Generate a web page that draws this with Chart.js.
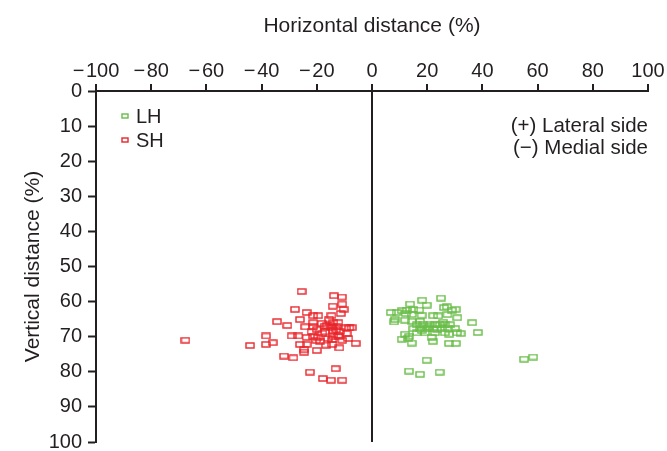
<!DOCTYPE html>
<html>
<head>
<meta charset="utf-8">
<script src="https://cdn.jsdelivr.net/npm/chart.js@4.4.1/dist/chart.umd.min.js"></script>
<style>
  html, body { margin: 0; padding: 0; background: #fff; }
</style>
</head>
<body>
<canvas id="distChart" width="667" height="451"></canvas>
<script>
// LH group (lateral) - horizontal / vertical distance (%)
const lhX = [25.0, 18.2, 19.8, 13.8, 26.1, 27.1, 28.9, 30.3, 10.8, 12.6, 15.0, 17.1, 6.8, 8.9,
  12.2, 14.4, 18.0, 22.2, 24.0, 27.3, 30.9, 8.3, 8.0, 12.0, 14.4, 17.4, 36.3,
  16.2, 18.6, 21.0, 22.8, 24.6, 26.4, 28.3, 15.0, 17.4, 19.8, 22.2, 25.3, 27.6, 30.1,
  16.2, 19.2, 22.8, 26.4, 30.7, 32.1, 38.3, 12.0, 13.5, 28.0, 10.8, 13.2, 21.6, 22.0,
  14.4, 27.9, 30.3, 19.8, 55.1, 58.4, 13.4, 17.4, 24.5, 20.5, 23.5, 18.0, 25.8];
const lhY = [59.0, 59.6, 61.0, 60.7, 61.7, 61.5, 62.4, 62.2, 62.6, 62.4, 62.2, 62.4, 63.1, 63.1,
  63.4, 63.7, 63.9, 64.0, 64.1, 63.7, 64.6, 65.1, 65.8, 65.3, 65.6, 65.6, 66.0,
  66.6, 66.6, 66.6, 66.6, 66.6, 66.6, 66.6, 67.7, 67.7, 67.7, 67.7, 67.7, 67.7, 67.7,
  68.9, 68.9, 68.9, 68.9, 68.9, 69.1, 68.8, 69.3, 69.9, 69.3, 70.7, 70.5, 70.2, 71.3,
  71.8, 71.9, 71.9, 76.7, 76.4, 75.8, 79.8, 80.7, 80.1, 67.2, 67.9, 68.2, 65.9];

// SH group (medial)
const shX = [-25.5, -13.8, -10.9, -10.8, -14.2, -10.3, -27.9, -23.7, -11.3, -21.3, -19.5, -26.1,
  -14.7, -15.6, -34.4, -30.7, -21.3, -18.2, -14.0, -12.2, -24.2, -21.3, -16.4, -14.6, -12.8,
  -9.4, -7.4, -8.2, -21.9, -17.0, -14.0, -11.6, -38.4, -29.1, -26.7, -23.7, -21.3, -19.5,
  -14.0, -12.2, -9.2, -8.6, -67.6, -36.0, -38.4, -44.2, -26.1, -23.7, -18.8, -16.7, -14.4,
  -14.4, -10.8, -5.9, -11.8, -24.6, -24.6, -20.0, -31.9, -28.5, -22.5, -13.2, -17.8, -14.9,
  -10.8, -20.0, -18.0, -15.0, -13.0, -16.0, -20.2, -17.2, -12.0];
const shY = [57.1, 58.3, 58.7, 60.7, 61.3, 62.2, 62.2, 63.1, 63.4, 64.0, 64.0, 65.1,
  64.0, 65.0, 65.7, 66.8, 66.0, 66.2, 66.0, 66.0, 67.2, 67.2, 66.9, 67.2, 67.2,
  67.5, 67.4, 67.5, 68.6, 68.6, 68.3, 68.6, 69.8, 69.8, 69.8, 70.2, 70.0, 70.2,
  70.0, 69.6, 69.1, 70.5, 71.0, 71.7, 72.2, 72.5, 72.2, 72.2, 71.3, 72.4, 70.8,
  72.2, 71.0, 71.9, 73.2, 73.7, 74.4, 73.9, 75.5, 76.0, 80.1, 79.1, 81.9, 82.4,
  82.4, 68.0, 69.0, 67.5, 68.0, 70.5, 71.0, 67.0, 70.0];

const xTicks = [-100, -80, -60, -40, -20, 0, 20, 40, 60, 80, 100];
const yTicks = [0, 10, 20, 30, 40, 50, 60, 70, 80, 90, 100];

const green = 'rgb(104,189,72)';
const red = 'rgb(232,38,44)';
const ink = '#231f20';
const fontFamily = "'Liberation Sans', Arial, Helvetica, sans-serif";

function toPoints(xs, ys) {
  return xs.map((x, i) => ({ x: x, y: ys[i] }));
}

// small open rectangle marker like the original figure
function rectMarker(color, w, h) {
  const c = document.createElement('canvas');
  c.width = w + 2;
  c.height = h + 2;
  const g = c.getContext('2d');
  g.strokeStyle = color;
  g.lineWidth = 1.4;
  g.strokeRect(1, 1, w, h);
  return c;
}

const insideLegend = {
  id: 'insideLegend',
  afterDatasetsDraw(chart) {
    const { ctx, chartArea } = chart;
    ctx.save();
    ctx.font = '20px ' + fontFamily;
    ctx.fillStyle = ink;
    ctx.textBaseline = 'middle';
    chart.data.datasets.forEach((ds, i) => {
      const y = chartArea.top + 25 + i * 24;
      const m = rectMarker(ds.borderColor, 6, 4);
      ctx.drawImage(m, chartArea.left + 25, y - 3);
      ctx.textAlign = 'left';
      ctx.fillText(ds.label, chartArea.left + 40, y + 1);
    });
    ctx.font = '20.5px ' + fontFamily;
    ctx.textAlign = 'right';
    ctx.fillText('(+) Lateral side', chartArea.right, chartArea.top + 35);
    ctx.fillText('(\u2212) Medial side', chartArea.right, chartArea.top + 57);
    ctx.restore();
  }
};

const minusFmt = v => (v < 0 ? '\u2212\u200a' + Math.abs(v) : String(v));

new Chart(document.getElementById('distChart'), {
  type: 'scatter',
  data: {
    datasets: [
      {
        label: 'LH',
        data: toPoints(lhX, lhY),
        borderColor: green,
        backgroundColor: green,
        pointStyle: rectMarker(green, 8, 5),
        pointRadius: 5
      },
      {
        label: 'SH',
        data: toPoints(shX, shY),
        borderColor: red,
        backgroundColor: red,
        pointStyle: rectMarker(red, 8, 5),
        pointRadius: 5
      }
    ]
  },
  options: {
    responsive: false,
    animation: false,
    devicePixelRatio: 1,
    layout: { padding: { right: 19, bottom: 9, top: 0, left: 0 } },
    plugins: {
      legend: { display: false },
      tooltip: { enabled: false }
    },
    scales: {
      x: {
        type: 'linear',
        position: 'top',
        min: -100,
        max: 100,
        afterBuildTicks: s => { s.ticks = xTicks.map(v => ({ value: v })); },
        afterFit: s => { s.height = 91; s.paddingLeft = 0; s.paddingRight = 0; },
        ticks: {
          color: ink,
          font: { size: 20, family: fontFamily },
          padding: 1,
          maxRotation: 0,
          callback: minusFmt
        },
        grid: {
          drawOnChartArea: true,
          color: c => (c.tick && c.tick.value === 0 ? ink : 'rgba(0,0,0,0)'),
          lineWidth: 2,
          tickLength: 7,
          tickColor: ink,
          tickWidth: 2
        },
        border: { color: ink, width: 2 },
        title: {
          display: true,
          text: 'Horizontal distance (%)',
          color: ink,
          font: { size: 21, family: fontFamily },
          padding: { top: 14, bottom: 4 }
        }
      },
      y: {
        type: 'linear',
        reverse: true,
        min: 0,
        max: 100,
        afterBuildTicks: s => { s.ticks = yTicks.map(v => ({ value: v })); },
        afterFit: s => { s.width = 96; s.paddingTop = 0; s.paddingBottom = 0; },
        ticks: {
          color: ink,
          font: { size: 20, family: fontFamily },
          padding: 6
        },
        grid: {
          drawOnChartArea: false,
          tickLength: 8,
          tickColor: ink,
          tickWidth: 2
        },
        border: { color: ink, width: 2 },
        title: {
          display: true,
          text: 'Vertical distance (%)',
          color: ink,
          font: { size: 21, family: fontFamily },
          padding: { top: 21, bottom: 4 }
        }
      }
    }
  },
  plugins: [insideLegend]
});
</script>
</body>
</html>
